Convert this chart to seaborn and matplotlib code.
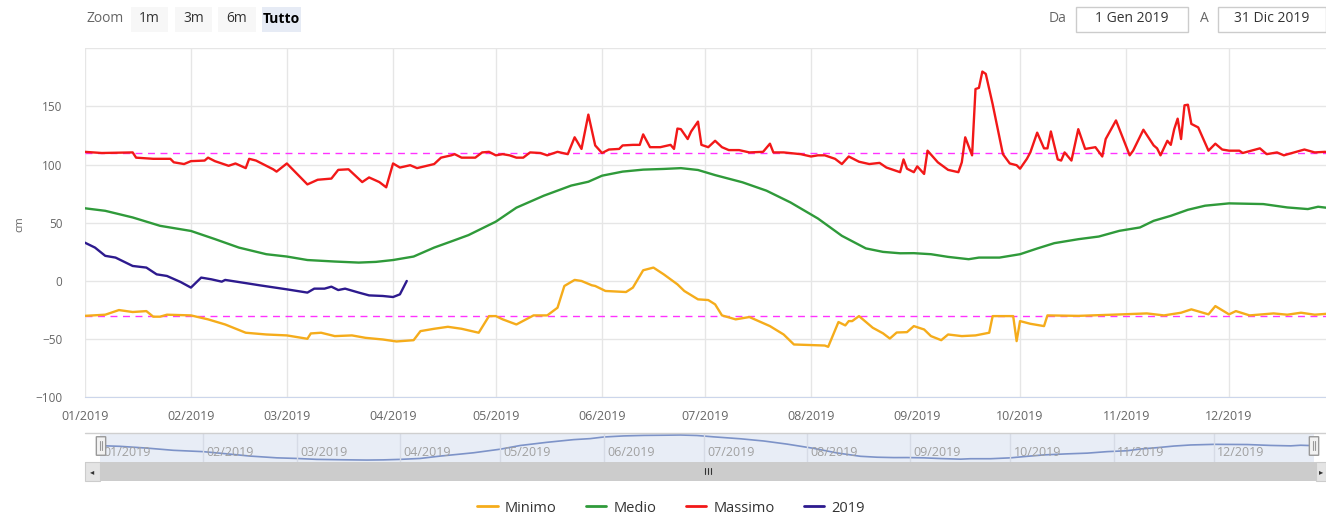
import numpy as np
import pandas as pd
import matplotlib
matplotlib.use("Agg")
import matplotlib.pyplot as plt
import matplotlib.dates as mdates
from matplotlib.patches import Rectangle, FancyBboxPatch
from matplotlib.lines import Line2D
import seaborn as sns

# day of year (0 = 1 Jan 2019) and level in cm
max_days = [0, 5, 14, 15, 20, 25, 26, 29, 31, 35, 36, 38, 42, 44, 47, 48, 50, 55, 56, 59,
            62, 65, 68, 72, 74, 77, 79, 81, 83, 86, 88, 90, 92, 95, 97, 102, 104, 107, 108, 110,
            114, 116, 118, 120, 122, 124, 126, 128, 130, 133, 135, 138, 141, 143, 145, 147, 149, 151, 153, 156,
            157, 160, 162, 163, 165, 168, 171, 172, 173, 174, 176, 177, 179, 180, 182, 184, 186, 188, 191, 194,
            198, 200, 201, 204, 209, 212, 214, 216, 219, 221, 223, 226, 229, 232, 234, 237, 238, 239, 240, 242,
            243, 245, 246, 249, 252, 255, 256, 257, 259, 260, 261, 262, 263, 265, 268, 270, 272, 273, 275, 276,
            278, 280, 281, 282, 284, 285, 286, 288, 290, 292, 295, 297, 298, 301, 305, 306, 309, 312, 313, 314,
            316, 317, 318, 319, 320, 321, 322, 323, 325, 328, 330, 332, 334, 337, 338, 343, 345, 348, 350, 353,
            356, 359, 362, 364]
max_vals = [111, 110, 110.5, 106, 105, 105, 102, 100.5, 103, 103.5, 106, 103, 99, 101, 97, 105, 103.5, 96, 94, 101,
            92, 83, 87, 88, 95.5, 96, 90.5, 85, 89, 85, 80.5, 101, 97.5, 99.5, 97, 100.5, 106, 108, 109, 106,
            106, 110.5, 111, 108, 109, 108, 106, 106, 110.5, 110, 108, 111, 109, 123.5, 113.5, 143, 116.5, 110, 113, 113.5,
            116.5, 117, 117, 126, 115, 115, 117, 113.5, 131, 130.5, 122, 128.5, 137, 117, 115, 120.5, 115, 112.5, 112.5, 110.5,
            111, 118, 110.5, 110.5, 109, 107, 108, 108, 105, 100.5, 107, 102.5, 100.5, 101.5, 97.5, 94.5, 93.5, 104.5, 96.5, 93.5,
            98.5, 92, 112, 102, 95.5, 93.5, 102, 123.5, 108, 165, 166, 180, 178, 152, 109, 101, 99.5, 96.5, 105, 110.5,
            127.5, 114, 114, 128.5, 104.5, 103.5, 110.5, 103.5, 130.5, 113.5, 115, 107, 122, 138, 108, 112, 130, 116.5, 114, 108,
            120.5, 117, 130.5, 139.5, 122, 151, 151.5, 135, 132, 112, 118, 113, 112, 112, 110, 114, 109, 110.5, 108, 110.5,
            113, 110.5, 111, 110]

med_days = [0, 6, 14, 22, 31, 38, 45, 53, 59, 65, 73, 80, 85, 90, 96, 102, 107, 112, 120, 126,
            134, 142, 147, 151, 157, 163, 169, 174, 179, 184, 192, 199, 206, 214, 221, 228, 233, 238, 242, 247,
            252, 258, 261, 267, 273, 278, 283, 290, 296, 302, 308, 312, 317, 322, 327, 334, 344, 351, 357, 360, 364]
med_vals = [62.5, 60.3, 54.6, 47.4, 43, 36, 28.7, 23, 21, 18, 16.7, 15.8, 16.4, 18, 21, 28.7, 34, 39.4, 51, 63,
            73.3, 82, 85.3, 90.5, 94, 95.7, 96.3, 97, 95.4, 91, 84.8, 77.6, 67.5, 53.7, 38.8, 28, 25, 23.8, 23.9, 23,
            20.7, 18.7, 20.1, 20.1, 23, 27.9, 32.5, 35.9, 38.2, 43.1, 46, 51.7, 56, 61.2, 64.7, 66.7, 66.1, 63.2, 61.8, 63.8, 62.4]

min_days = [0, 6, 10, 14, 18, 20, 22, 24, 31, 36, 41, 47, 53, 59, 65, 66, 69, 73, 78, 82,
            87, 91, 96, 98, 102, 106, 110, 115, 118, 120, 122, 126, 131, 135, 138, 140, 143, 145, 148, 149,
            152, 158, 160, 163, 166, 169, 173, 175, 179, 182, 184, 186, 190, 194, 200, 204, 207, 216, 217, 220,
            222, 223, 224, 226, 230, 233, 235, 237, 240, 242, 245, 247, 250, 252, 256, 260, 264, 265, 271, 272,
            273, 276, 280, 281, 290, 300, 310, 315, 320, 323, 328, 330, 334, 336, 340, 347, 351, 355, 359, 364]
min_vals = [-30, -29, -25, -26.7, -25.9, -30.7, -30.7, -29, -29.6, -33, -37.4, -44.5, -46, -46.8, -49.7, -45.1, -44.5, -47.4, -46.8, -48.9,
            -50.3, -52, -50.9, -43.1, -41.1, -39.4, -41.1, -44.5, -30.2, -30.2, -33, -37.4, -29.6, -29.6, -23, -4.3, 0.9, 0, -3.7, -4.3,
            -8.6, -9.5, -5.7, 9.2, 11.5, 5.7, -2.9, -8.6, -15.8, -16.4, -20.1, -29.6, -33, -31, -38.8, -46, -54.6, -55.5, -56.6, -35.3,
            -38.2, -34.5, -34.5, -30.2, -40.2, -45, -49.5, -44.3, -44, -38.8, -41.7, -47.4, -50.9, -46, -47.4, -46.8, -44.5, -30.2, -30.2, -51.7,
            -34.5, -36.8, -38.8, -29.6, -30, -29, -27.9, -29.6, -27.3, -24.4, -28.7, -21.6, -28.7, -25.9, -29.6, -27.9, -29, -27.3, -29, -27.9]

cur_days = [0, 3, 6, 9, 14, 18, 21, 24, 28, 31, 34, 37, 40, 41, 48, 51, 59, 65, 67, 70,
            72, 74, 76, 80, 83, 87, 90, 92, 94]
cur_vals = [33, 28.7, 21.6, 20.1, 12.9, 11.5, 5.7, 4.3, -0.9, -5.7, 2.9, 1.4, -0.6, 0.9, -2.3, -3.7, -7.2, -10, -6.6, -6.6,
            -4.9, -7.8, -6.6, -10, -12.4, -12.9, -13.8, -11.5, 0]

thresholds = [110, -30]

series_names = ["Minimo", "Medio", "Massimo", "2019"]
series_colors = ["#f5ac1b", "#2f9a3a", "#f21818", "#2d1a8e"]

start = pd.Timestamp("2019-01-01")


def to_dates(days):
    return start + pd.to_timedelta(days, unit="D")


frames = {
    "Minimo": pd.DataFrame({"data": to_dates(min_days), "cm": min_vals}),
    "Medio": pd.DataFrame({"data": to_dates(med_days), "cm": med_vals}),
    "Massimo": pd.DataFrame({"data": to_dates(max_days), "cm": max_vals}),
    "2019": pd.DataFrame({"data": to_dates(cur_days), "cm": cur_vals}),
}

sns.set_style("white")
plt.rcParams["font.family"] = ["Open Sans", "DejaVu Sans"]

W, H = 1326, 520
fig = plt.figure(figsize=(W / 100, H / 100), dpi=100)


def box(x0, y0, x1, y1):
    # pixel box (top-left origin) -> figure fraction rect
    return [x0 / W, 1 - y1 / H, (x1 - x0) / W, (y1 - y0) / H]


grid_c = "#e6e6e6"
txt_c = "#666666"
months = pd.date_range("2019-01-01", "2019-12-01", freq="MS")

# ---- main chart
ax = fig.add_axes(box(84.7, 48.3, 1326, 397.3))
for name, col in zip(series_names, series_colors):
    sns.lineplot(data=frames[name], x="data", y="cm", ax=ax, color=col,
                 linewidth=1.7, legend=False, zorder=3)
for t in thresholds:
    ax.axhline(t, color="#ff33ff", linewidth=1.0, dashes=(5, 4), zorder=2)

ax.set_xlim(start, start + pd.Timedelta(days=362.3))
ax.set_ylim(-100, 200)
ax.set_yticks([-100, -50, 0, 50, 100, 150, 200])
ax.set_yticklabels(["−100", "−50", "0", "50", "100", "150", ""])
ax.set_xticks(months)
ax.xaxis.set_major_formatter(mdates.DateFormatter("%m/%Y"))
ax.grid(True, color=grid_c, linewidth=1)
for s in ["top", "right", "left"]:
    ax.spines[s].set_visible(False)
ax.spines["bottom"].set_color("#ccd6eb")
ax.tick_params(axis="y", length=0, pad=16, labelsize=8.5, labelcolor=txt_c)
ax.tick_params(axis="x", length=6, color="#ccd6eb", pad=3, labelsize=9, labelcolor=txt_c)
ax.set_xlabel("")
ax.set_ylabel("")
fig.text(20 / W, 1 - 224 / H, "cm", rotation=90, ha="center", va="center",
         fontsize=8, color=txt_c)

# ---- navigator
nav = fig.add_axes(box(100, 433, 1314, 462))
nav.set_facecolor("#e8edf6")
sns.lineplot(data=frames["Medio"], x="data", y="cm", ax=nav, color="#7d93c8",
             linewidth=1.2, legend=False)
nav.set_xlim(start, pd.Timestamp("2019-12-31"))
nav.set_ylim(9.5, 103.5)
for m in months[1:]:
    nav.axvline(m, color="#d6dbe6", linewidth=1)
for m in months:
    nav.text(m + pd.Timedelta(days=1), 0.33, m.strftime("%m/%Y"), transform=nav.get_xaxis_transform(),
             ha="left", va="center", fontsize=9, color="#a0a0a0")
nav.set_xticks([])
nav.set_yticks([])
nav.set_xlabel("")
nav.set_ylabel("")
for s in nav.spines.values():
    s.set_visible(False)
fig.add_artist(Line2D([85 / W, 1326 / W], [1 - 433 / H] * 2, color="#cfcfcf", linewidth=1))

# navigator handles
for hx in [101, 1314]:
    fig.add_artist(FancyBboxPatch(((hx - 4) / W, 1 - 455 / H), 8 / W, 18 / H,
                                  boxstyle="round,pad=0.0005", facecolor="#f2f2f2",
                                  edgecolor="#999999", linewidth=1))
    for dx in [-1.3, 1.3]:
        fig.add_artist(Line2D([(hx + dx) / W] * 2, [1 - 450 / H, 1 - 441 / H],
                              color="#999999", linewidth=0.8))

# ---- scrollbar
fig.add_artist(Rectangle((85 / W, 1 - 481 / H), 1241 / W, 19 / H, facecolor="#cccccc",
                         edgecolor="none"))
fig.add_artist(Rectangle((85 / W, 1 - 481 / H), 15 / W, 19 / H, facecolor="#e4e4e4",
                         edgecolor="#cccccc", linewidth=0.8))
fig.add_artist(Rectangle((1316 / W, 1 - 481 / H), 10 / W, 19 / H, facecolor="#e4e4e4",
                         edgecolor="#cccccc", linewidth=0.8))
fig.text(92.5 / W, 1 - 471.5 / H, "◂", ha="center", va="center", fontsize=6, color="#333333",
         family=["DejaVu Sans"])
fig.text(1321 / W, 1 - 471.5 / H, "▸", ha="center", va="center", fontsize=6, color="#333333",
         family=["DejaVu Sans"])
for gx in [705, 708, 711]:
    fig.add_artist(Line2D([gx / W] * 2, [1 - 474 / H, 1 - 468 / H], color="#333333", linewidth=0.8))

# ---- range selector
fig.text(86 / W, 1 - 19 / H, "Zoom", ha="left", va="center", fontsize=10, color=txt_c)
buttons = [("1m", 131, 168), ("3m", 175, 212), ("6m", 218, 256), ("Tutto", 262, 301)]
for lab, x0, x1 in buttons:
    active = lab == "Tutto"
    fig.add_artist(Rectangle((x0 / W, 1 - 32 / H), (x1 - x0) / W, 25 / H,
                             facecolor="#e6ebf5" if active else "#f7f7f7", edgecolor="none"))
    fig.text((x0 + x1) / 2 / W, 1 - 19 / H, lab, ha="center", va="center", fontsize=10,
             color="#000000" if active else "#333333", fontweight="bold" if active else "normal")

fig.text(1058 / W, 1 - 19 / H, "Da", ha="center", va="center", fontsize=10, color=txt_c)
fig.text(1204 / W, 1 - 19 / H, "A", ha="center", va="center", fontsize=10, color=txt_c)
for lab, x0, x1 in [("1 Gen 2019", 1076, 1188), ("31 Dic 2019", 1218, 1326)]:
    fig.add_artist(Rectangle((x0 / W, 1 - 32 / H), (x1 - x0) / W, 25 / H,
                             facecolor="white", edgecolor="#cccccc", linewidth=1))
    fig.text((x0 + x1) / 2 / W, 1 - 19 / H, lab, ha="center", va="center", fontsize=10,
             color="#333333")

# ---- legend
handles = [Line2D([], [], color=c, linewidth=2) for c in series_colors]
fig.legend(handles, series_names, loc="center", bbox_to_anchor=(671 / W, 1 - 508 / H),
           ncol=4, frameon=False, fontsize=10.5, handlelength=1.4, handletextpad=0.5,
           columnspacing=2.0, labelcolor="#333333")

fig.savefig("out.png", dpi=100)
